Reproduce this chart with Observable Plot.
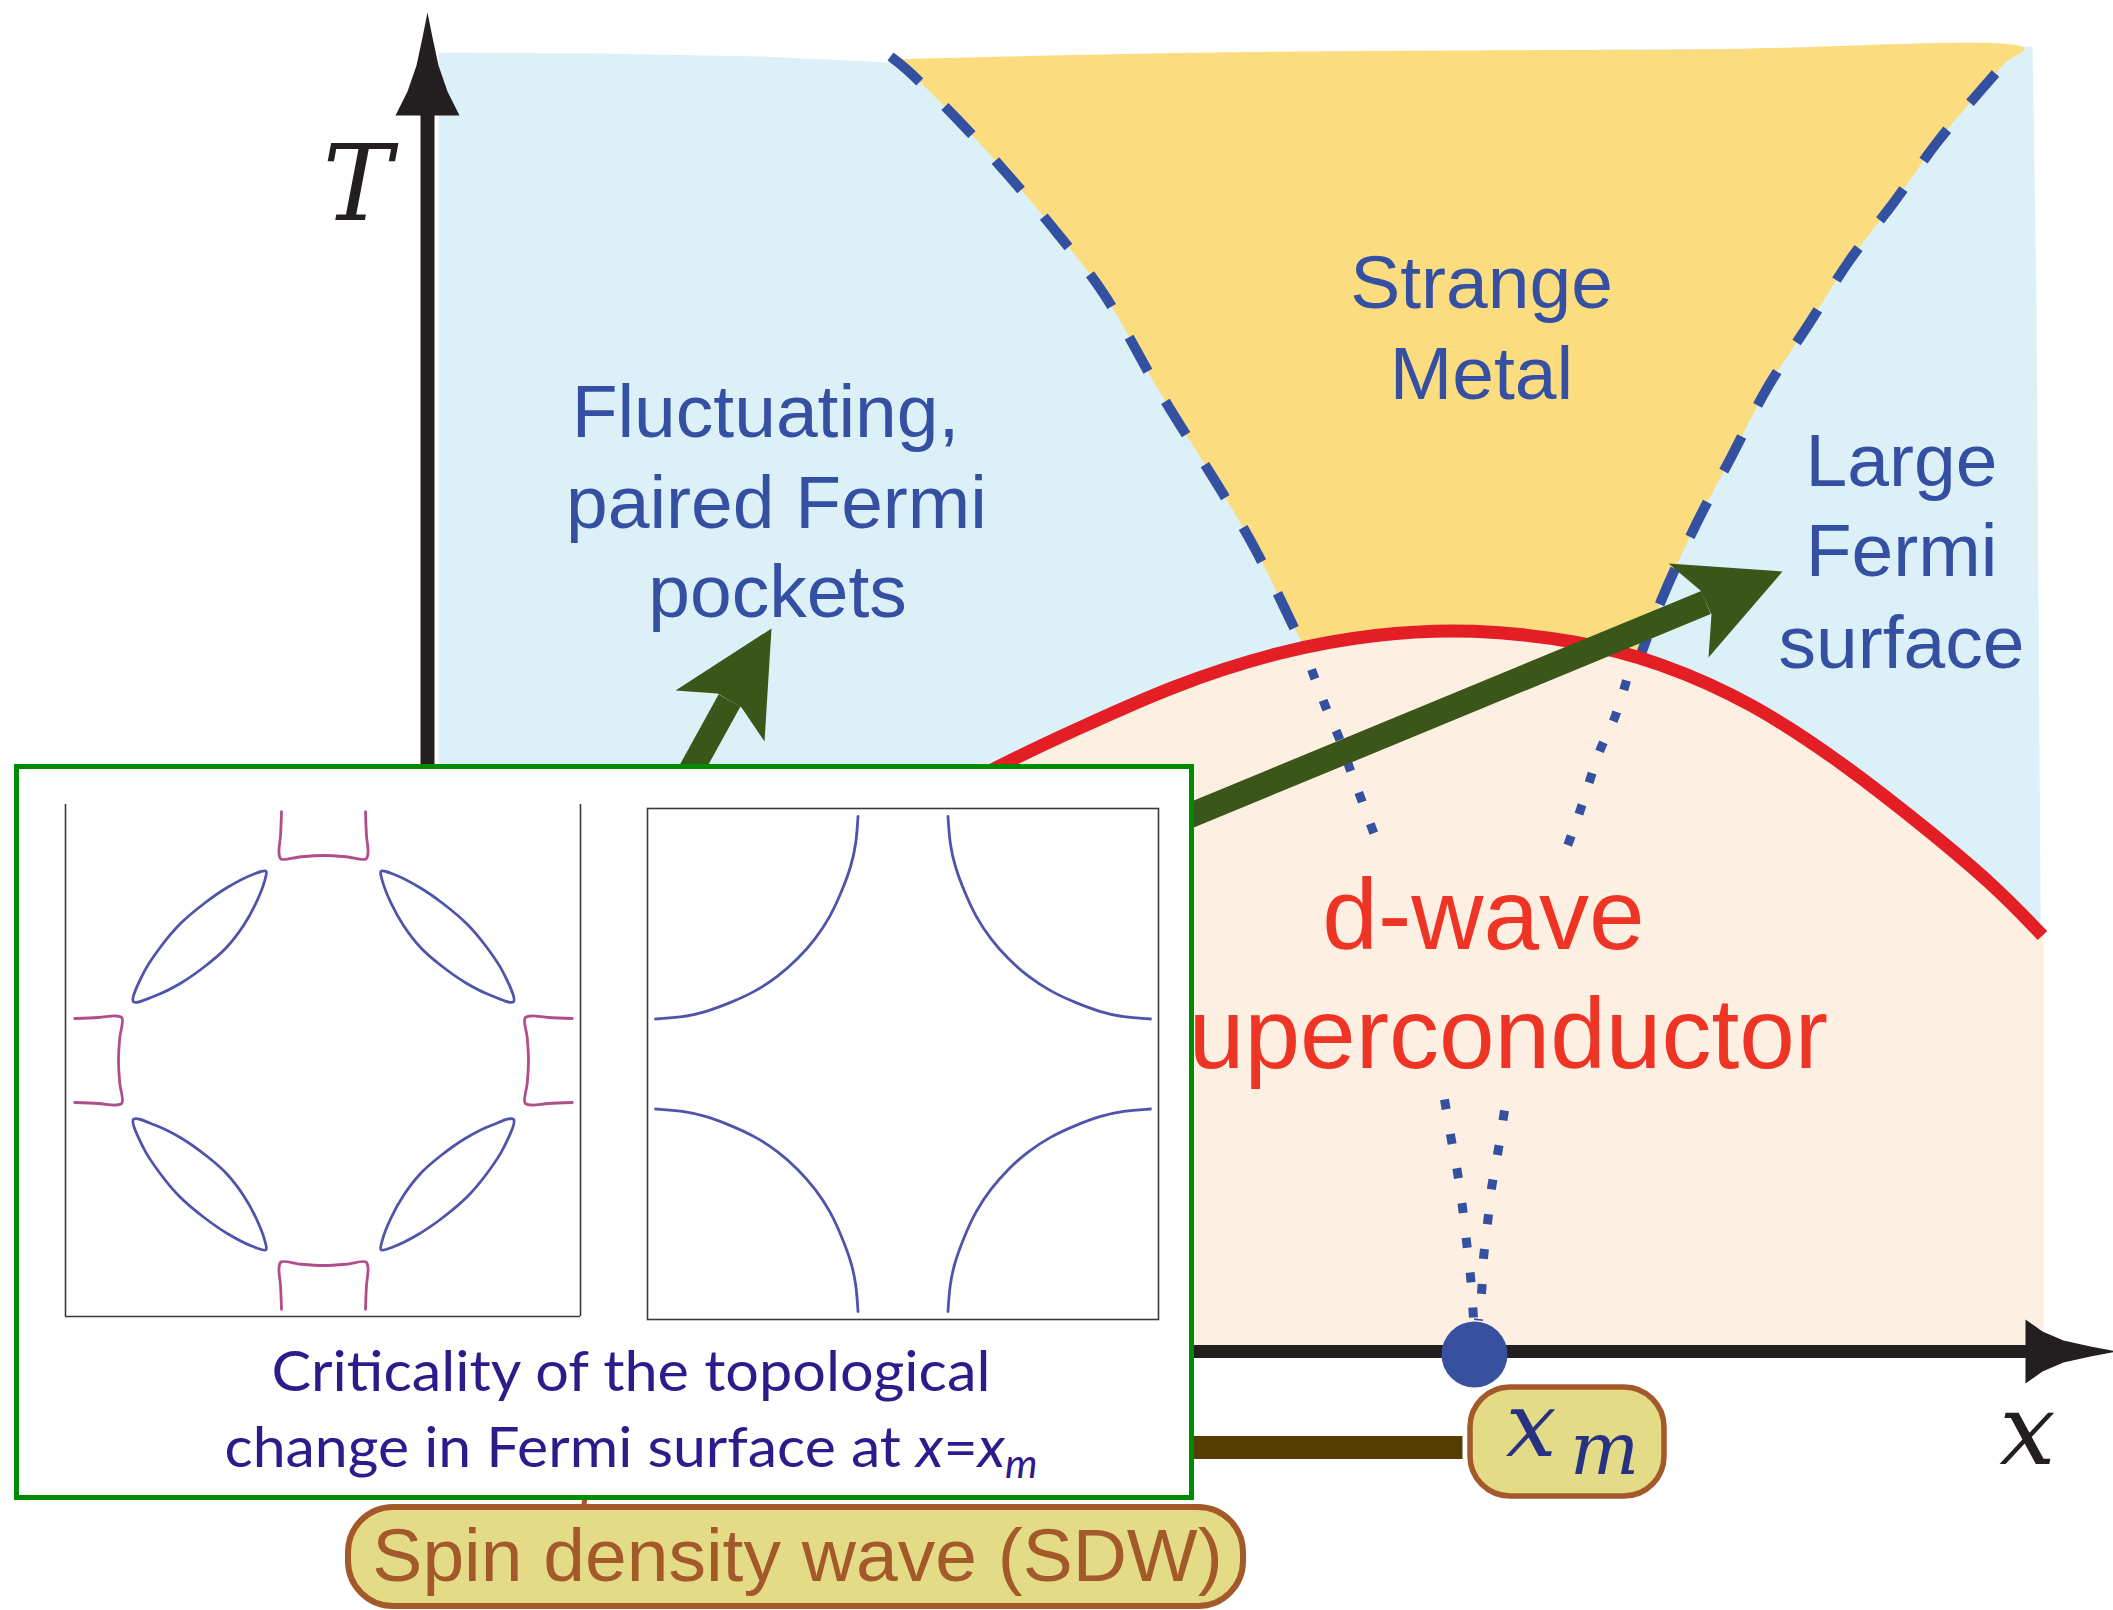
<!DOCTYPE html>
<html>
<head>
<meta charset="utf-8">
<script src="https://cdn.jsdelivr.net/npm/d3@7"></script>
<script src="https://cdn.jsdelivr.net/npm/@observablehq/plot@0.6"></script>
<style>
html, body { margin:0; padding:0; overflow:hidden; background:#fff; width:2113px; height:1610px; }
#main { position:absolute; left:0; top:0; }
#main svg { display:block; }
#inset { position:absolute; left:14px; top:764px; width:1180px; height:736px; box-sizing:border-box; border:5px solid #008c00; background:#fff; }
.panel { position:absolute; }
.panel svg { display:block; }
.cap { position:absolute; left:631px; white-space:nowrap; font-family:Lato, "Open Sans", sans-serif; font-size:57px; line-height:76px; color:#2f1a8c; transform-origin:50% 50%; }
.cap sub { font-size:0.7em; vertical-align:-0.28em; line-height:0; }
</style>
</head>
<body>
<div id="main"></div>
<div id="inset"></div>
<div id="p1" class="panel" style="left:63px; top:802px;"></div>
<div id="p2" class="panel" style="left:645px; top:806px;"></div>
<div id="c1" class="cap" style="top:1331px;">Criticality of the topological</div>
<div id="c2" class="cap" style="top:1407px;">change in Fermi surface at <i>x</i>=<i>x<sub>m</sub></i></div>
<script>
// ---------- phase diagram data (x: doping units, y: temperature units) ----------
const blueRegion = [[1.1,129.9],[17.3,129.8],[33.3,129.5],[46.3,128.9],[107.3,130.1],[160.5,130.5],[160.9,105.1],[161.1,75.1],[161.3,45.1],[161.4,0],[1.1,0]];
const yellowTop = [[46.3,129.2],[67.3,129.7],[87.3,130.0],[127.3,130.2],[159.7,130.3],[157.8,128.9]];
const leftDashed = [[46.3,129.5],[47.8,128.3],[53.1,123.1],[58.1,117.6],[63.0,111.8],[67.6,105.8],[73.2,96.0],[79.9,85.2],[83.0,79.8],[86.4,72.9],[87.8,69.9]];
const rightDashed = [[156.8,127.8],[151.1,121.1],[146.7,115.0],[142.2,109.1],[138.1,102.7],[134.0,96.4],[130.4,89.5],[126.8,82.6],[123.5,75.4],[121.3,69.6]];
const leftDotted = [[88.4,68.2],[89.8,64.5],[91.1,61.5],[92.3,58.1],[93.5,54.9],[94.9,51.1]];
const rightDotted = [[119.9,67.1],[118.8,63.6],[117.2,60.0],[116.1,56.7],[115.0,53.3],[113.9,50.3]];
const lowLeftDotted = [[101.7,25.2],[102.4,21.1],[103.0,17.9],[103.5,14.4],[103.9,11.0],[104.3,7.5],[104.6,3.3]];
const lowRightDotted = [[107.7,24.1],[107.0,19.7],[106.4,16.3],[106.0,12.8],[105.6,9.3],[105.4,5.8],[105.1,3.1]];
const redDome = [[45.3,52.1],[57.0,58.6],[65.1,62.3],[74.5,66.6],[85.3,70.1],[94.8,71.8],[104.5,72.3],[115.0,71.1],[123.1,69.0],[132.5,64.9],[141.9,58.6],[150.0,52.2],[156.7,46.6],[161.5,41.6]];
const peachCorners = [[161.6,41.6],[161.6,0],[45.3,0]];
const bigShaft = [[67.3,49.9],[127.85,74.9]];
const bigHead = [[135.5,78.0],[124.1,78.8],[127.3,76.1],[128.4,73.7],[128.1,69.4]];
const smallShaft = [[24.3,54.4],[30.2,65.1]];
const smallHead = [[34.4,72.3],[24.8,66.1],[29.0,65.8],[31.4,64.4],[33.7,61.0]];
const tAxis = [[0,0],[0,124]];
const tHead = [[0,133.9],[0.5,131.4],[1.1,128.6],[2.0,126.0],[3.2,123.6],[-3.2,123.6],[-2.0,126.0],[-1.1,128.6],[-0.5,131.4]];
const xAxis = [[0,0],[160,0]];
const xHead = [[168.9,0],[166.3,0.5],[163.6,1.1],[161.5,2.0],[159.8,3.2],[159.8,-3.2],[161.5,-2.0],[163.6,-1.1],[166.3,-0.5]];
const criticalPoint = [[104.7,-0.3]];
const sdwBar = [[0,-9.6],[103.5,-9.6]];
const sdwConnector = [[16.5,-9.6],[15.6,-15.6]];
const xmBox = [{x1:104.3, x2:123.7, y1:-14.5, y2:-3.6}];
const sdwBox = [{x1:-7.9, x2:81.6, y1:-25.5, y2:-15.6}];

const regionText = ["Fluctuating,","paired Fermi","pockets","Strange","Metal","Large","Fermi","surface"];
const regionX = [33.8,34.9,35.0,105.4,105.4,147.4,147.4,147.4];
const regionY = [91.5,82.4,73.5,104.4,95.3,86.6,77.6,68.4];
const scText = ["d-wave","superconductor"];
const scX = [105.6,105.6];
const scY = [40.3,28.4];

// ---------- Fermi surface data (k in units of pi) ----------
const pocketUL = [[-0.76,0.235],[-0.72,0.35],[-0.655,0.45],[-0.575,0.545],[-0.475,0.63],[-0.38,0.695],[-0.28,0.745],[-0.23,0.757],
                  [-0.235,0.72],[-0.27,0.63],[-0.32,0.54],[-0.39,0.45],[-0.47,0.38],[-0.57,0.31],[-0.67,0.26]];
const capTop = [[-0.168,0.995],[-0.172,0.90],[-0.178,0.83],[-0.17,0.806],[-0.09,0.815],[0,0.82],[0.09,0.815],[0.17,0.806],[0.178,0.83],[0.172,0.90],[0.168,0.995]];
const arcUL = [[-0.18,0.99],[-0.187,0.88],[-0.208,0.788],[-0.245,0.69],[-0.29,0.59],[-0.35,0.50],[-0.42,0.42],[-0.50,0.35],[-0.59,0.29],[-0.69,0.245],[-0.788,0.208],[-0.88,0.187],[-0.99,0.18]];

const pts = a => a.map(([x,y]) => ({x, y}));
const mirror4 = a => [[1,1],[-1,1],[1,-1],[-1,-1]].flatMap(([sx,sy],i) => a.map(([x,y]) => ({x:x*sx, y:y*sy, z:i})));
const rotate4 = a => [([x,y])=>[x,y], ([x,y])=>[x,-y], ([x,y])=>[-y,x], ([x,y])=>[y,x]].flatMap((f,i) => a.map(p => { const [x,y] = f(p); return {x, y, z:i}; }));

const BLUE_TXT = "#3550a2", DASH = "#3450a1", RED = "#e31e25", GREEN = "#3a5719";
const XY = {x:"x", y:"y"};

const regionLabels = regionText.map((t,i) => ({t, x:regionX[i], y:regionY[i]}));
const scLabels = scText.map((t,i) => ({t, x:scX[i], y:scY[i]}));

const main = Plot.plot({
  width: 2113, height: 1610, margin: 0,
  x: {domain: [-42.7, 168.6], axis: null},
  y: {domain: [-25.9, 135.1], axis: null},
  style: {background: "#fff"},
  marks: [
    Plot.line(pts(blueRegion), {...XY, fill: "#dbf0f7", stroke: "none"}),
    Plot.line(pts([...yellowTop, ...rightDashed, [119.5,64],[88,64], ...leftDashed.slice().reverse()]), {...XY, fill: "#fbdd80", stroke: "none", curve: "catmull-rom"}),
    Plot.line(pts([...redDome, ...peachCorners]), {...XY, fill: "#fdefe2", stroke: "none", curve: "linear"}),
    Plot.line(pts(leftDashed), {...XY, stroke: DASH, strokeWidth: 10, strokeDasharray: "39,35", strokeLinecap: "butt", curve: "catmull-rom"}),
    Plot.line(pts(rightDashed), {...XY, stroke: DASH, strokeWidth: 10, strokeDasharray: "39,35", strokeLinecap: "butt", curve: "catmull-rom"}),
    Plot.line(pts(leftDotted), {...XY, stroke: DASH, strokeWidth: 9, strokeDasharray: "10,23", strokeLinecap: "butt", curve: "catmull-rom"}),
    Plot.line(pts(rightDotted), {...XY, stroke: DASH, strokeWidth: 9, strokeDasharray: "10,23", strokeLinecap: "butt", curve: "catmull-rom"}),
    Plot.line(pts(lowLeftDotted), {...XY, stroke: DASH, strokeWidth: 9, strokeDasharray: "10,25", strokeLinecap: "butt", curve: "catmull-rom"}),
    Plot.line(pts(lowRightDotted), {...XY, stroke: DASH, strokeWidth: 9, strokeDasharray: "10,25", strokeLinecap: "butt", curve: "catmull-rom"}),
    Plot.line(pts(redDome), {...XY, stroke: RED, strokeWidth: 13, strokeLinecap: "butt", curve: "basis"}),
    Plot.line(pts(smallShaft), {...XY, stroke: GREEN, strokeWidth: 25, strokeLinecap: "butt"}),
    Plot.line(pts(smallHead), {...XY, fill: GREEN, stroke: "none", curve: "linear-closed"}),
    Plot.line(pts(bigShaft), {...XY, stroke: GREEN, strokeWidth: 25, strokeLinecap: "butt"}),
    Plot.line(pts(bigHead), {...XY, fill: GREEN, stroke: "none", curve: "linear-closed"}),
    Plot.line(pts(tAxis), {...XY, stroke: "#231f20", strokeWidth: 14, strokeLinecap: "butt"}),
    Plot.line(pts(tHead), {...XY, fill: "#231f20", stroke: "none", curve: "linear-closed"}),
    Plot.line(pts(xAxis), {...XY, stroke: "#231f20", strokeWidth: 13, strokeLinecap: "butt"}),
    Plot.line(pts(xHead), {...XY, fill: "#231f20", stroke: "none", curve: "linear-closed"}),
    Plot.dot(pts(criticalPoint), {...XY, r: 33, fill: "#3750a0", stroke: "none"}),
    Plot.line(pts(sdwBar), {...XY, stroke: "#553c00", strokeWidth: 23, strokeLinecap: "butt"}),
    Plot.line(pts(sdwConnector), {...XY, stroke: "#a3592a", strokeWidth: 5, strokeLinecap: "butt"}),
    Plot.rect(xmBox, {x1:"x1", x2:"x2", y1:"y1", y2:"y2", rx: 40, fill: "#e4db87", stroke: "#a3592a", strokeWidth: 5.5}),
    Plot.rect(sdwBox, {x1:"x1", x2:"x2", y1:"y1", y2:"y2", rx: 45, fill: "#e4db87", stroke: "#a3592a", strokeWidth: 6}),
    Plot.text([{t:"x", x:110.35, y:-10.4}], {...XY, text:"t", fontFamily:"DejaVu Serif", fontStyle:"italic", fontSize:90, fill:"#283282", lineAnchor:"bottom"}),
    Plot.text([{t:"m", x:117.7, y:-12.2}], {...XY, text:"t", fontFamily:"DejaVu Serif", fontStyle:"italic", fontSize:73, fill:"#283282", lineAnchor:"bottom"}),
    Plot.text([{t:"Spin density wave (SDW)", x:37.0, y:-22.9}], {...XY, text:"t", fontFamily:"Liberation Sans", fontSize:75, fill:"#a3592a", lineAnchor:"bottom"}),
    Plot.text([{t:"T", x:-7.0, y:113.2}], {...XY, text:"t", fontFamily:"DejaVu Serif", fontStyle:"italic", fontSize:104, fill:"#231f20", lineAnchor:"bottom"}),
    Plot.text([{t:"x", x:160.0, y:-11.2}], {...XY, text:"t", fontFamily:"DejaVu Serif", fontStyle:"italic", fontSize:100, fill:"#231f20", lineAnchor:"bottom"}),
    Plot.text(regionLabels, {...XY, text:"t", fontFamily:"Liberation Sans", fontSize:75, fill:BLUE_TXT, lineAnchor:"bottom"}),
    Plot.text(scLabels, {...XY, text:"t", fontFamily:"Liberation Sans", fontSize:100, fill:"#ee3424", lineAnchor:"bottom"})
  ]
});
document.getElementById("main").append(main);

// ---------- inset Fermi surfaces ----------
const FS_BLUE = "#4e54aa", FS_MAG = "#b04d8a", FRAME = "#3a3a3a";
const left = Plot.plot({
  width: 519, height: 516, margin: 2,
  x: {domain: [-1.032, 1.028], axis: null},
  y: {domain: [-1.024, 1.024], axis: null},
  style: {background: "transparent"},
  marks: [
    Plot.ruleX([-1.032, 1.028], {y1: -1.024, y2: 1.024, stroke: FRAME, strokeWidth: 1.6}),
    Plot.ruleY([-1.024], {x1: -1.032, x2: 1.028, stroke: FRAME, strokeWidth: 1.6}),
    Plot.line(mirror4(pocketUL), {x:"x", y:"y", z:"z", curve:"catmull-rom-closed", stroke: FS_BLUE, strokeWidth: 2.8}),
    Plot.line(rotate4(capTop), {x:"x", y:"y", z:"z", curve:"catmull-rom", stroke: FS_MAG, strokeWidth: 2.8})
  ]
});
document.getElementById("p1").append(left);

const right = Plot.plot({
  width: 515, height: 515, margin: 2,
  x: {domain: [-1.022, 1.022], axis: null},
  y: {domain: [-1.022, 1.022], axis: null},
  style: {background: "transparent"},
  marks: [
    Plot.frame({stroke: FRAME, strokeWidth: 1.6}),
    Plot.line(mirror4(arcUL), {x:"x", y:"y", z:"z", curve:"basis", stroke: FS_BLUE, strokeWidth: 2.8})
  ]
});
document.getElementById("p2").append(right);

// ---------- fit caption widths ----------
function fitCaptions() {
  [["c1", 719], ["c2", 813]].forEach(([id, w]) => {
    const el = document.getElementById(id);
    el.style.transform = "none";
    const actual = el.getBoundingClientRect().width;
    el.style.transform = `translateX(-50%) scaleX(${w / actual})`;
  });
}
fitCaptions();
if (document.fonts && document.fonts.ready) document.fonts.ready.then(fitCaptions);
</script>
</body>
</html>
